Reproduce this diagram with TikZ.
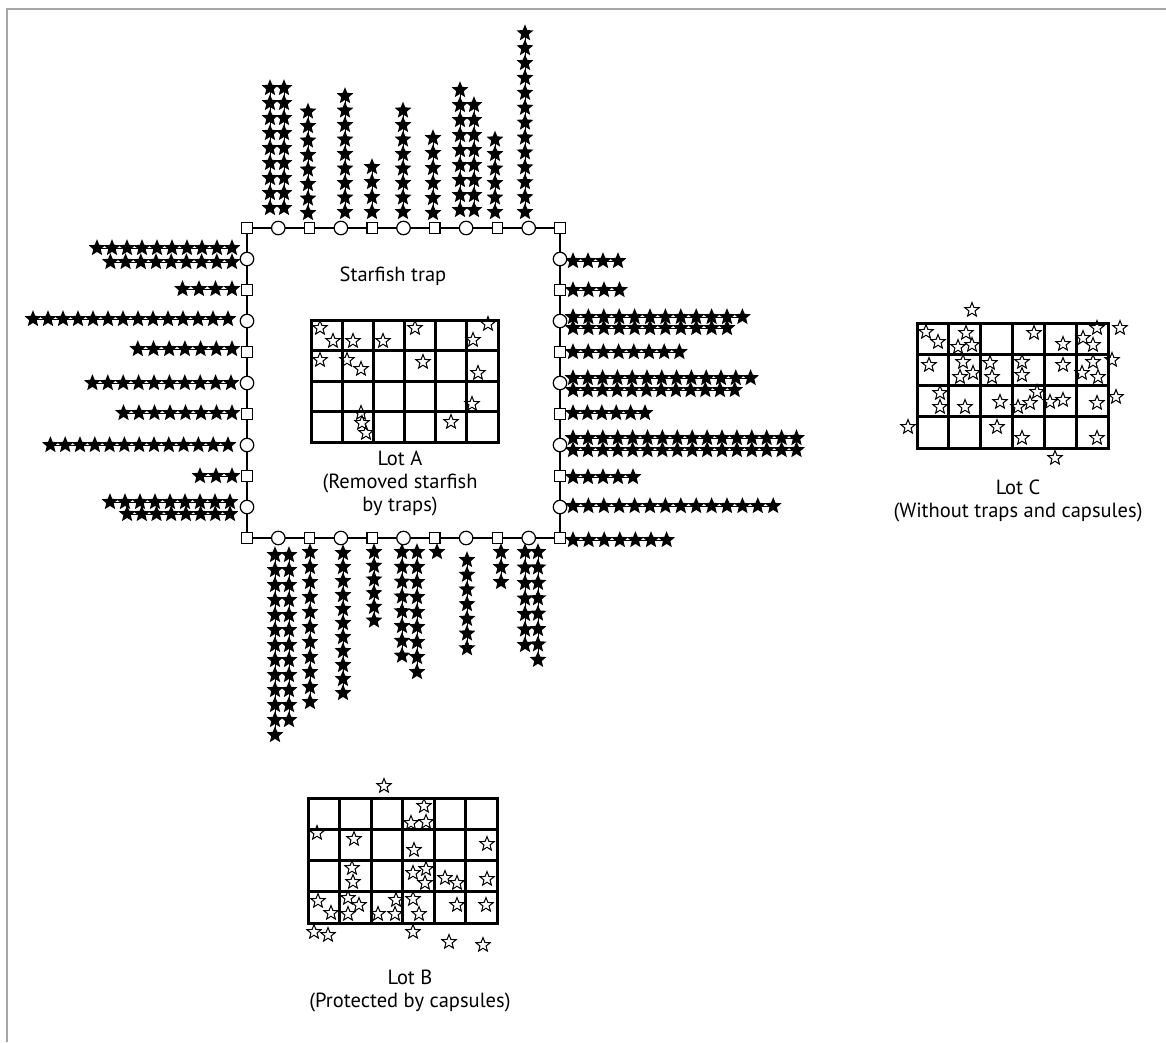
\documentclass[tikz,border=0pt]{standalone}
\usepackage{fontspec}
\setmainfont{PT Sans}
\newcommand{\starcol}[4]{% x, first y, count, step
  \draw[line width=0.8pt] (#1,#2) -- ++(0,{(#3-1)*#4});
  \foreach \i in {1,...,#3} \pic at (#1,{#2+(\i-1)*#4}) {fstar};
}
\newcommand{\starrow}[4]{% first x, y, count, step
  \draw[line width=0.8pt] (#1,#2) -- ++({(#3-1)*#4},0);
  \foreach \i in {1,...,#3} \pic at ({#1+(\i-1)*#4},#2) {fstar};
}
\newcommand{\lotgrid}[4]{% x0 y0 x1 y1
  \foreach \i in {0,...,6} \draw[gridline] ({#1+\i*(#3-#1)/6},#2) -- ({#1+\i*(#3-#1)/6},#4);
  \foreach \j in {0,...,4} \draw[gridline] (#1,{#2+\j*(#4-#2)/4}) -- (#3,{#2+\j*(#4-#2)/4});
}
\begin{document}
\begin{tikzpicture}[x=1pt,y=-1pt,
  fstar/.pic={\fill[black] (270:8.8) -- (306:3.9) -- (342:8.8) -- (18:3.9) -- (54:8.8) -- (90:3.9) -- (126:8.8) -- (162:3.9) -- (198:8.8) -- (234:3.9) -- cycle;},
  ostar/.pic={\draw[black,line width=1pt,line join=miter] (270:7.5) -- (306:3.2) -- (342:7.5) -- (18:3.2) -- (54:7.5) -- (90:3.2) -- (126:7.5) -- (162:3.2) -- (198:7.5) -- (234:3.2) -- cycle;},
  sqtrap/.style={rectangle, draw, line width=1.2pt, fill=white, minimum size=10.5pt, inner sep=0pt},
  citrap/.style={circle, draw, line width=1.2pt, fill=white, minimum size=13.5pt, inner sep=0pt},
  gridline/.style={line width=3pt, line cap=rect},
  frameline/.style={line width=2.2pt},
  lbl/.style={font=\fontsize{20.5}{23}\selectfont, align=center, inner sep=0pt}
]
\fill[white] (0,0) rectangle (1166,1042);
\useasboundingbox (0,0) rectangle (1166,1042);
\draw[gray!70, line width=1.2pt] (7,1042) -- (7,9) -- (1166,9);

% ---------- star chains: top ----------
\starcol{270}{208}{9}{-15}
\starcol{284}{208}{9}{-15}
\starcol{308}{213}{8}{-14.5}
\starcol{345}{212}{9}{-14.5}
\starcol{372}{212}{4}{-15}
\starcol{403}{212}{8}{-14.5}
\starcol{433}{213}{6}{-15}
\starcol{460}{210}{9}{-15}
\starcol{474}{210}{8}{-15}
\starcol{495}{212}{6}{-14.5}
\starcol{525}{212}{13}{-14.9}
% ---------- bottom ----------
\starcol{275}{555}{13}{15}
\starcol{289}{555}{12}{15}
\starcol{310}{552}{11}{15}
\starcol{343}{553}{11}{14}
\starcol{374}{552}{6}{13.7}
\starcol{402}{552}{8}{14.8}
\starcol{417}{552}{9}{15}
\starcol{437}{552}{1}{15}
\starcol{467}{560}{7}{14.7}
\starcol{501}{552}{3}{15}
\starcol{525}{552}{7}{15.5}
\starcol{538}{552}{8}{15.4}
% ---------- left ----------
\starrow{232}{248}{10}{-15}
\starrow{232}{262}{9}{-15.2}
\starrow{232}{289}{4}{-16.5}
\starrow{228}{319}{14}{-15}
\starrow{232}{349}{7}{-15.7}
\starrow{231}{383}{10}{-15.4}
\starrow{232}{413}{8}{-15.5}
\starrow{228}{445}{13}{-14.8}
\starrow{232}{476}{3}{-16}
\starrow{230}{502}{9}{-15}
\starrow{230}{514}{8}{-14.7}
% ---------- right ----------
\starrow{573}{261}{4}{15}
\starrow{573}{290}{4}{15.5}
\starrow{573}{317}{12}{15.4}
\starrow{573}{328}{11}{15.4}
\starrow{573}{352}{8}{15.2}
\starrow{573}{378}{13}{14.8}
\starrow{573}{390}{12}{14.7}
\starrow{573}{413}{6}{14.4}
\starrow{573}{438}{16}{14.9}
\starrow{573}{450}{16}{14.9}
\starrow{573}{477}{5}{15}
\starrow{573}{506}{14}{15.4}
\starrow{573}{540}{7}{15.6}

% ---------- trap frame ----------
\coordinate (cTL) at (247,228);
\coordinate (cTR) at (560,228);
\coordinate (cBR) at (560,538);
\coordinate (cBL) at (247,538);
\draw[frameline] (cTL) -- (cTR) -- (cBR) -- (cBL) -- cycle;
\foreach \k in {0,...,10}{
  \pgfmathtruncatemacro{\odd}{mod(\k,2)}
  \ifnum\odd=0
    \node[sqtrap] (tT\k) at ({247+31.3*\k},228) {};
    \node[sqtrap] (tB\k) at ({247+31.3*\k},538) {};
  \else
    \node[citrap] (tT\k) at ({247+31.3*\k},228) {};
    \node[citrap] (tB\k) at ({247+31.3*\k},538) {};
  \fi
}
\foreach \k in {1,...,9}{
  \pgfmathtruncatemacro{\odd}{mod(\k,2)}
  \ifnum\odd=0
    \node[sqtrap] (tL\k) at (247,{228+31*\k}) {};
    \node[sqtrap] (tR\k) at (560,{228+31*\k}) {};
  \else
    \node[citrap] (tL\k) at (247,{228+31*\k}) {};
    \node[citrap] (tR\k) at (560,{228+31*\k}) {};
  \fi
}

% ---------- Lot A ----------
\lotgrid{311}{320}{498}{442}
\foreach \p in {(320,328),(333,341),(353,341),(383,341),(415,328),(488,324),(473,340),
  (320,360),(347,360),(361,369),(423,362),(478,373),(472,404),(361,413),(362,423),(366,433),(451,422)}
  \pic at \p {ostar};

% ---------- Lot B ----------
\lotgrid{308}{798}{497}{923}
\foreach \p in {(384,786),(424,806),(411,823),(426,822),(317,833),(354,839),(414,850),(487,844),
  (352,868),(353,882),(413,873),(426,869),(425,883),(445,878),(457,883),(487,879),
  (318,901),(331,913),(348,898),(359,905),(348,914),(396,900),(378,914),(395,914),(413,899),(419,914),
  (457,905),(486,905),(314,932),(328,935),(413,932),(449,942),(483,945)}
  \pic at \p {ostar};

% ---------- Lot C ----------
\lotgrid{917}{323}{1108}{448}
\foreach \p in {(972,310),(926,332),(938,342),(966,333),(958,347),(972,345),(1034,333),(1063,344),
  (1083,338),(1093,345),(1097,328),(1120,328),(929,365),(963,362),(973,373),(960,377),(990,363),
  (992,377),(1022,362),(1022,375),(1063,365),(1093,362),(1082,373),(1098,377),(1112,360),
  (940,393),(940,407),(965,407),(1000,402),(1018,407),(1030,403),(1037,392),(1050,402),(1063,400),
  (1097,403),(1116,397),(908,427),(997,427),(1022,438),(1097,438),(1055,458)}
  \pic at \p {ostar};

% ---------- labels ----------
\node[lbl] (trap) at (393,276) {Starfish trap};
\node[lbl] (lotA) at (400,483) {Lot A\\(Removed starfish\\by traps)};
\node[lbl] (lotB) at (410,991) {Lot B\\(Protected by capsules)};
\node[lbl] (lotC) at (1018,501) {Lot C\\(Without traps and capsules)};
\end{tikzpicture}
\end{document}
